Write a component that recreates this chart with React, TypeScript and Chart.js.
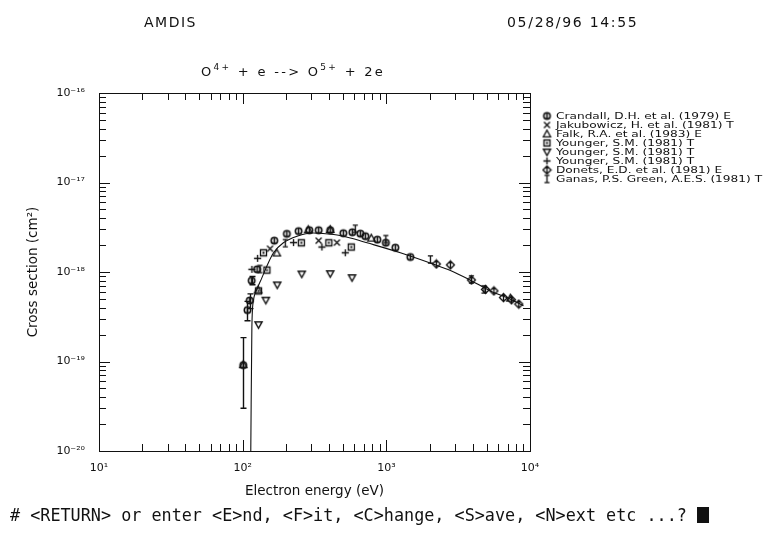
import React, { useEffect, useRef } from 'react';
import { Chart, registerables } from 'chart.js';

Chart.register(...registerables);

// ---------- texts ----------
const headerLeft = 'AMDIS';
const headerRight = '05/28/96 14:55';
const xAxisTitle = 'Electron energy (eV)';
const yAxisTitle = 'Cross section (cm²)';
const promptText = '# <RETURN> or enter <E>nd, <F>it, <C>hange, <S>ave, <N>ext etc ...? ';
const titleParts = [
  { t: 'O', sup: false },
  { t: '4+', sup: true },
  { t: ' + e --> O', sup: false },
  { t: '5+', sup: true },
  { t: ' + 2e', sup: false },
];

// ---------- axes ----------
const xTickValues = [1e1, 1e2, 1e3, 1e4];
const xTickLabels = ['10¹', '10²', '10³', '10⁴'];
const yTickValues = [1e-20, 1e-19, 1e-18, 1e-17, 1e-16];
const yTickLabels = ['10⁻²⁰', '10⁻¹⁹', '10⁻¹⁸', '10⁻¹⁷', '10⁻¹⁶'];
const minorMultiples = [2, 3, 4, 5, 6, 7, 8, 9];

// ---------- series ----------
const seriesLabels = [
  'Crandall, D.H. et al. (1979) E',
  'Jakubowicz, H. et al. (1981) T',
  'Falk, R.A. et al. (1983) E',
  'Younger, S.M. (1981) T',
  'Younger, S.M. (1981) T',
  'Younger, S.M. (1981) T',
  'Donets, E.D. et al. (1981) E',
  'Ganas, P.S. Green, A.E.S. (1981) T',
];

// fitted curve
const fitE = [113.9, 115.9, 118.9, 125.6, 136, 147.5, 164, 192, 239, 310, 430, 561, 734, 1252, 2136, 2793, 3846, 5305, 7311, 9000];
const fitS = [1e-20, 2.4e-19, 4.8e-19, 6.4e-19, 8.6e-19, 1.17e-18, 1.64e-18, 2.12e-18, 2.51e-18, 2.73e-18, 2.62e-18, 2.4e-18, 2.12e-18, 1.64e-18, 1.22e-18, 1.04e-18, 8.1e-19, 6.15e-19, 4.97e-19, 4.2e-19];

// Crandall (with error bars)
const crandallE = [101, 108, 112, 115.5, 126, 166, 203, 245, 291, 338, 407, 502, 580, 659, 714, 866, 992, 1155, 1470];
const crandallS = [9.1e-20, 3.75e-19, 4.8e-19, 8.0e-19, 1.07e-18, 2.24e-18, 2.67e-18, 2.86e-18, 2.93e-18, 2.93e-18, 2.93e-18, 2.71e-18, 2.78e-18, 2.68e-18, 2.51e-18, 2.3e-18, 2.12e-18, 1.87e-18, 1.47e-18];
const crandallErrLo = [3.0e-20, 2.85e-19, 3.9e-19, 7.2e-19, null, null, null, null, null, null, null, null, null, null, null, null, null, null, null];
const crandallErrHi = [1.85e-19, 4.7e-19, 5.7e-19, 8.9e-19, null, null, null, null, null, null, null, null, null, null, null, null, null, null, null];

const jakubowiczE = [155, 338, 453];
const jakubowiczS = [1.82e-18, 2.24e-18, 2.13e-18];

const falkE = [101, 128, 173, 286, 407, 786, 7300];
const falkS = [9.2e-20, 6.3e-19, 1.63e-18, 2.97e-18, 2.98e-18, 2.39e-18, 5.1e-19];

const youngerSqE = [129, 139.6, 147.5, 256, 398, 570];
const youngerSqS = [6.15e-19, 1.64e-18, 1.05e-18, 2.12e-18, 2.12e-18, 1.9e-18];

const youngerTriE = [129, 145, 174, 258, 407, 577];
const youngerTriS = [2.58e-19, 4.85e-19, 7.17e-19, 9.5e-19, 9.58e-19, 8.64e-19];

const youngerPlusE = [116, 127, 226, 356, 518];
const youngerPlusS = [1.07e-18, 1.42e-18, 2.13e-18, 1.9e-18, 1.64e-18];

const donetsE = [2230, 2793, 3911, 4897, 5610, 6536, 7430, 8356];
const donetsS = [1.23e-18, 1.2e-18, 8.15e-19, 6.39e-19, 6.15e-19, 5.18e-19, 4.89e-19, 4.38e-19];

const ganasE = [132, 198, 608, 992, 2026, 3911, 4780];
const ganasS = [1.08e-18, 2.1e-18, 3.04e-18, 2.33e-18, 1.38e-18, 8.26e-19, 6.39e-19];

const symbolKinds = ['circleBar', 'cross', 'triUp', 'squareDot', 'triDown', 'plus', 'diamondBar', 'ibeam'];

// ---------- layout ----------
const W = 763;
const H = 548;
const AREA = { left: 99, right: 530, top: 93, bottom: 451 };
const INK = '#111';

function pts(xs: number[], ys: number[]) {
  return xs.map((x, i) => ({ x, y: ys[i] }));
}

function makeSymbol(kind: string): HTMLCanvasElement {
  const S = 11;
  const c = document.createElement('canvas');
  c.width = S;
  c.height = S;
  const g = c.getContext('2d') as CanvasRenderingContext2D;
  g.strokeStyle = INK;
  g.fillStyle = INK;
  g.lineWidth = 1.35;
  const m = S / 2;
  g.beginPath();
  switch (kind) {
    case 'circleBar':
      g.lineWidth = 1.6;
      g.arc(m, m, 3.2, 0, Math.PI * 2);
      g.moveTo(m, m - 3.2);
      g.lineTo(m, m + 3.2);
      break;
    case 'cross':
      g.moveTo(m - 3, m - 3);
      g.lineTo(m + 3, m + 3);
      g.moveTo(m + 3, m - 3);
      g.lineTo(m - 3, m + 3);
      break;
    case 'triUp':
      g.moveTo(m, m - 3.8);
      g.lineTo(m + 3.6, m + 2.8);
      g.lineTo(m - 3.6, m + 2.8);
      g.closePath();
      break;
    case 'squareDot':
      g.rect(m - 3, m - 3, 6, 6);
      break;
    case 'triDown':
      g.moveTo(m - 3.6, m - 2.8);
      g.lineTo(m + 3.6, m - 2.8);
      g.lineTo(m, m + 3.6);
      g.closePath();
      break;
    case 'plus':
      g.moveTo(m - 3.6, m);
      g.lineTo(m + 3.6, m);
      g.moveTo(m, m - 3.6);
      g.lineTo(m, m + 3.6);
      break;
    case 'diamondBar':
      g.moveTo(m, m - 4);
      g.lineTo(m + 4, m);
      g.lineTo(m, m + 4);
      g.lineTo(m - 4, m);
      g.closePath();
      g.moveTo(m, m - 4);
      g.lineTo(m, m + 4);
      break;
    case 'ibeam':
      g.moveTo(m, m - 3.6);
      g.lineTo(m, m + 3.6);
      g.moveTo(m - 2.6, m - 3.6);
      g.lineTo(m + 2.6, m - 3.6);
      g.moveTo(m - 2.6, m + 3.6);
      g.lineTo(m + 2.6, m + 3.6);
      break;
  }
  g.stroke();
  if (kind === 'squareDot') g.fillRect(m - 1, m - 1, 2, 2);
  return c;
}

function labelFor(values: number[], labels: string[], v: number) {
  const i = values.findIndex((t) => Math.abs(Math.log10(t) - Math.log10(v)) < 1e-6);
  return i >= 0 ? labels[i] : '';
}

export default function App() {
  const ref = useRef<HTMLCanvasElement | null>(null);

  useEffect(() => {
    const canvas = ref.current;
    if (!canvas) return;
    const symbols = symbolKinds.map(makeSymbol);
    const seriesData = [
      pts(crandallE, crandallS),
      pts(jakubowiczE, jakubowiczS),
      pts(falkE, falkS),
      pts(youngerSqE, youngerSqS),
      pts(youngerTriE, youngerTriS),
      pts(youngerPlusE, youngerPlusS),
      pts(donetsE, donetsS),
      pts(ganasE, ganasS),
    ];

    const decor = {
      id: 'decor',
      beforeDraw(chart: any) {
        const ctx = chart.ctx;
        ctx.save();
        ctx.fillStyle = '#fff';
        ctx.fillRect(0, 0, W, H);
        ctx.restore();
      },
      afterDatasetsDraw(chart: any) {
        const ctx = chart.ctx as CanvasRenderingContext2D;
        const xs = chart.scales.x;
        const ys = chart.scales.y;
        const a = chart.chartArea;
        ctx.save();
        ctx.strokeStyle = INK;
        ctx.lineWidth = 1.4;
        // error bars (Crandall)
        crandallE.forEach((e, i) => {
          const lo = crandallErrLo[i];
          const hi = crandallErrHi[i];
          if (lo == null || hi == null) return;
          const px = Math.round(xs.getPixelForValue(e)) + 0.5;
          const py1 = ys.getPixelForValue(lo);
          const py2 = ys.getPixelForValue(hi);
          ctx.beginPath();
          ctx.moveTo(px, py1);
          ctx.lineTo(px, py2);
          ctx.moveTo(px - 3, py1);
          ctx.lineTo(px + 3, py1);
          ctx.moveTo(px - 3, py2);
          ctx.lineTo(px + 3, py2);
          ctx.stroke();
        });
        // frame
        ctx.lineWidth = 1;
        ctx.strokeRect(Math.round(a.left) + 0.5, Math.round(a.top) + 0.5, Math.round(a.right - a.left), Math.round(a.bottom - a.top));
        // ticks (inward, on all four sides)
        const tick = (scale: any, v: number, len: number, horiz: boolean) => {
          const p = Math.round(scale.getPixelForValue(v)) + 0.5;
          ctx.beginPath();
          if (horiz) {
            ctx.moveTo(p, a.bottom);
            ctx.lineTo(p, a.bottom - len);
            ctx.moveTo(p, a.top);
            ctx.lineTo(p, a.top + len);
          } else {
            ctx.moveTo(a.left, p);
            ctx.lineTo(a.left + len, p);
            ctx.moveTo(a.right, p);
            ctx.lineTo(a.right - len, p);
          }
          ctx.stroke();
        };
        xTickValues.forEach((d, i) => {
          tick(xs, d, 11, true);
          if (i < xTickValues.length - 1) minorMultiples.forEach((m) => tick(xs, d * m, 7, true));
        });
        yTickValues.forEach((d, i) => {
          tick(ys, d, 11, false);
          if (i < yTickValues.length - 1) minorMultiples.forEach((m) => tick(ys, d * m, 7, false));
        });
        ctx.restore();
      },
      afterDraw(chart: any) {
        const ctx = chart.ctx as CanvasRenderingContext2D;
        ctx.save();
        ctx.fillStyle = INK;
        ctx.textBaseline = 'alphabetic';
        ctx.textAlign = 'left';
        // header
        ctx.font = '14px "DejaVu Sans"';
        (ctx as any).letterSpacing = '1.5px';
        ctx.fillText(headerLeft, 144, 27);
        (ctx as any).letterSpacing = '1.7px';
        ctx.fillText(headerRight, 507, 27);
        // title with superscripts
        let tx = 201;
        const base = 76;
        (ctx as any).letterSpacing = '2.3px';
        titleParts.forEach((p) => {
          ctx.font = p.sup ? '9px "DejaVu Sans"' : '13px "DejaVu Sans"';
          const y = p.sup ? base - 6 : base;
          ctx.fillText(p.t, tx, y);
          tx += ctx.measureText(p.t).width;
        });
        // legend (wide, low text like the plotter's stroke font)
        (ctx as any).letterSpacing = '0px';
        ctx.font = '9.5px "DejaVu Sans"';
        ctx.textBaseline = 'middle';
        seriesLabels.forEach((lab, i) => {
          const y = 116 + i * 9;
          const s = symbols[i];
          ctx.drawImage(s, 547 - s.width / 2, Math.round(y) - s.height / 2);
          ctx.save();
          ctx.translate(556, y + 0.5);
          ctx.scale(1.28, 1);
          ctx.fillText(lab, 0, 0);
          ctx.restore();
        });
        // prompt line
        ctx.textBaseline = 'alphabetic';
        ctx.font = '16.8px "DejaVu Sans Mono"';
        ctx.fillText(promptText, 10, 521);
        const w = ctx.measureText(promptText).width;
        ctx.fillRect(10 + w, 507, 12, 16);
        ctx.restore();
      },
    };

    const tickFont = { family: 'DejaVu Sans', size: 11 };
    const titleFont = { family: 'DejaVu Sans', size: 13.5 };

    const chart = new Chart(canvas, {
      type: 'scatter',
      data: {
        datasets: [
          {
            label: 'fit',
            data: pts(fitE, fitS),
            showLine: true,
            borderColor: INK,
            borderWidth: 1.1,
            pointRadius: 0,
            cubicInterpolationMode: 'monotone',
          } as any,
          ...seriesData.map((d, i) => ({
            label: seriesLabels[i],
            data: d,
            showLine: false,
            pointStyle: symbols[i],
            pointRadius: 4,
            borderColor: INK,
            backgroundColor: INK,
          })),
        ],
      },
      options: {
        responsive: false,
        animation: false,
        events: [],
        layout: { padding: { left: 10, right: W - AREA.right, top: AREA.top, bottom: 40 } },
        plugins: { legend: { display: false }, tooltip: { enabled: false }, title: { display: false } },
        scales: {
          x: {
            type: 'logarithmic',
            position: 'bottom',
            min: 10,
            max: 1e4,
            afterFit: (s: any) => {
              s.height = H - 40 - AREA.bottom;
            },
            afterBuildTicks: (s: any) => {
              s.ticks = xTickValues.map((v) => ({ value: v }));
            },
            grid: { display: false, drawTicks: false },
            border: { display: false },
            ticks: {
              autoSkip: false,
              maxRotation: 0,
              padding: 11,
              color: INK,
              font: tickFont,
              callback: (v: any) => labelFor(xTickValues, xTickLabels, Number(v)),
            },
            title: { display: true, text: xAxisTitle, color: INK, font: titleFont, padding: { top: 0, bottom: 8 } },
          },
          y: {
            type: 'logarithmic',
            position: 'left',
            min: 1e-20,
            max: 1e-16,
            afterFit: (s: any) => {
              s.width = AREA.left - 10;
            },
            afterBuildTicks: (s: any) => {
              s.ticks = yTickValues.map((v) => ({ value: v }));
            },
            grid: { display: false, drawTicks: false },
            border: { display: false },
            ticks: {
              autoSkip: false,
              padding: 14,
              color: INK,
              font: tickFont,
              callback: (v: any) => labelFor(yTickValues, yTickLabels, Number(v)),
            },
            title: { display: true, text: yAxisTitle, color: INK, font: titleFont, padding: { top: 15, bottom: 0 } },
          },
        },
      },
      plugins: [decor],
    } as any);

    return () => chart.destroy();
  }, []);

  return (
    <div style={{ position: 'absolute', left: 0, top: 0, width: W, height: H, background: '#fff' }}>
      <canvas ref={ref} width={W} height={H} style={{ display: 'block', width: W, height: H }} />
    </div>
  );
}
